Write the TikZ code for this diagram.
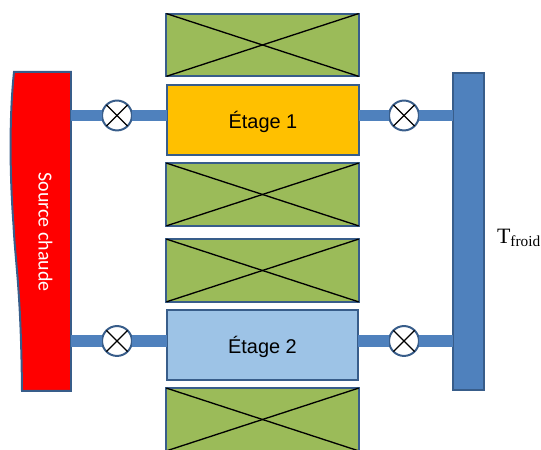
\documentclass[tikz,border=0pt]{standalone}
\usepackage{fontspec}
\setmainfont{Liberation Sans}
\newfontfamily\calibrifont{Carlito}
\newfontfamily\timesfont{Liberation Serif}
\usetikzlibrary{positioning}

\definecolor{edgeblue}{HTML}{385D8A}
\definecolor{pipeblue}{HTML}{4F81BD}
\definecolor{isogreen}{HTML}{9BBB59}
\definecolor{etageorange}{HTML}{FFC000}
\definecolor{etageblue}{HTML}{9DC3E6}

\begin{document}
\begin{tikzpicture}[scale=0.2646,
    boxstyle/.style={draw=edgeblue, line width=1.5pt, rectangle, inner sep=0pt, outer sep=0pt},
    isostyle/.style={boxstyle, fill=isogreen, minimum width=144.75pt, minimum height=47.25pt},
    etagestyle/.style={boxstyle, minimum width=144pt, minimum height=52.5pt, font=\fontsize{15}{18}\selectfont},
    valvestyle/.style={circle, draw=edgeblue, line width=1.5pt, fill=white, minimum size=22.5pt, inner sep=0pt, outer sep=0pt},
    pipestyle/.style={draw=pipeblue, line width=9pt},
    crossstyle/.style={draw=black, line width=1pt}]

    \useasboundingbox (0,0) rectangle (54.1,45);

    % hot source
    \draw[draw=edgeblue, line width=1.5pt, fill=red] (1.4,37.8) .. controls (0.95,33.5) and (0.95,28) .. (1.35,22.5)
        .. controls (1.55,18.5) and (2.1,16) .. (2.2,5.9) -- (7.1,5.9) -- (7.1,37.8) -- cycle;
    \draw(4.55,21.8) node[rotate=-90, text=white, font=\calibrifont\fontsize{15}{18}\selectfont] (S) {Source chaude};
    \coordinate (SE) at (7.1,21.85);

    % cold side
    \draw(46.85,21.85) node[boxstyle, fill=pipeblue, minimum width=24pt, minimum height=238.5pt] (F) {};
    \draw(51.9,21.2) node[font=\timesfont\fontsize{16.5}{20}\selectfont] (Tf) {T\textsubscript{froid}};

    % insulation
    \foreach \name/\y in {G1/40.5, G2/25.55, G3/17.95, G4/3.05} {
        \draw(26.25,\y) node[isostyle] (\name) {};
        \draw[crossstyle] (\name.north west) -- (\name.south east);
        \draw[crossstyle] (\name.south west) -- (\name.north east);
    }

    \draw(26.3,33) node[etagestyle, fill=etageorange, text depth=0pt, yshift=0pt] (E1) {Étage 1};
    \draw(26.25,10.5) node[etagestyle, fill=etageblue, text depth=0pt] (E2) {Étage 2};

    % valves and pipes
    \foreach \n/\y in {1/33.45, 2/10.9} {
        \draw(11.7,\y) node[valvestyle] (VL\n) {};
        \draw(40.4,\y) node[valvestyle] (VR\n) {};
        \draw[pipestyle] (SE |- VL\n) -- (VL\n.west);
        \draw[pipestyle] (VL\n.east) -- (VL\n -| E\n.west);
        \draw[pipestyle] (VR\n -| E\n.east) -- (VR\n.west);
        \draw[pipestyle] (VR\n.east) -- (VR\n -| F.west);
        \draw[crossstyle] (VL\n.north west) -- (VL\n.south east);
        \draw[crossstyle] (VL\n.south west) -- (VL\n.north east);
        \draw[crossstyle] (VR\n.north west) -- (VR\n.south east);
        \draw[crossstyle] (VR\n.south west) -- (VR\n.north east);
    }

\end{tikzpicture}
\end{document}
